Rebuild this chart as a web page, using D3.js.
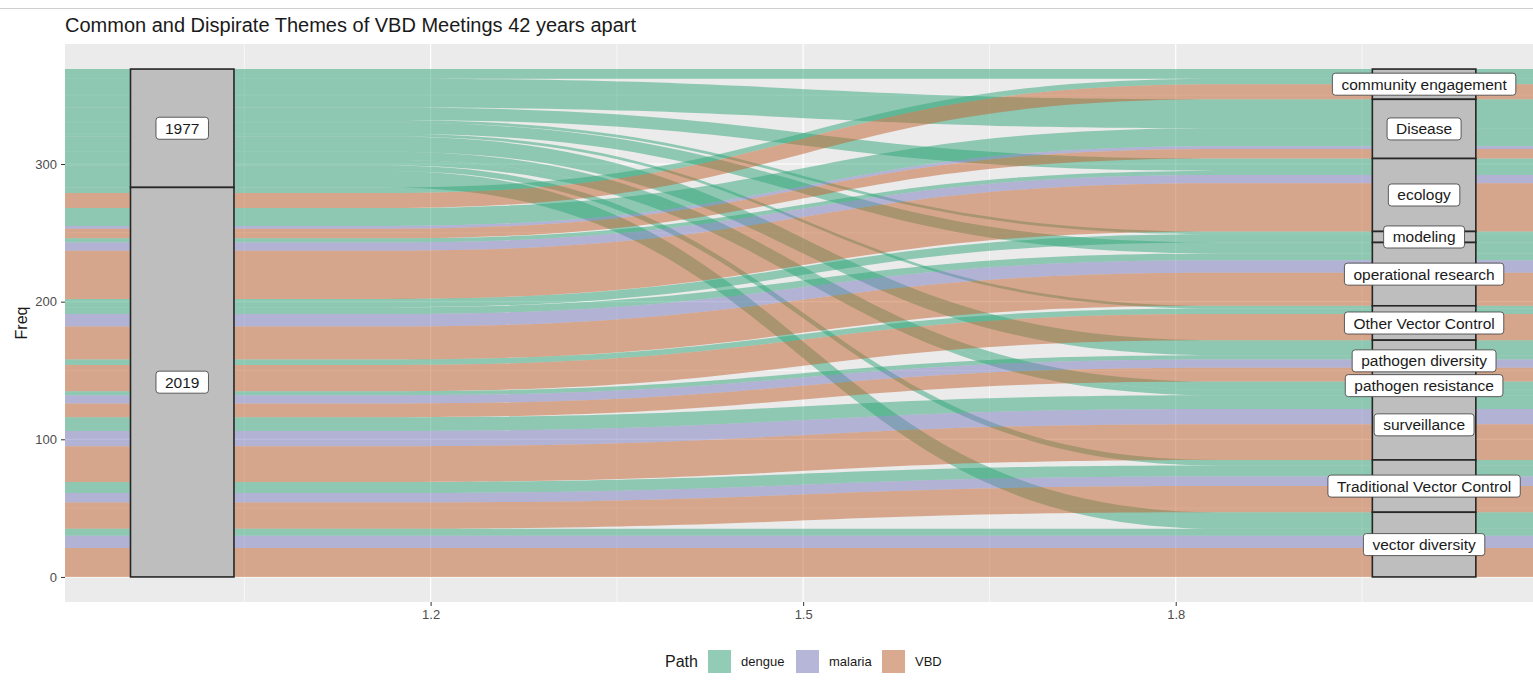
<!DOCTYPE html>
<html>
<head>
<meta charset="utf-8">
<script src="https://cdn.jsdelivr.net/npm/d3@7"></script>
<style>
  body { margin: 0; background: #ffffff; }
  svg { display: block; font-family: "Liberation Sans", Arial, Helvetica, sans-serif; }
</style>
</head>
<body>
<svg id="chart" width="1533" height="686"></svg>
<script>
// ---- data ----------------------------------------------------------------
const title = "Common and Dispirate Themes of VBD Meetings 42 years apart";
const years = ["1977", "2019"];
const themes = [
  "community engagement", "Disease", "ecology", "modeling",
  "operational research", "Other Vector Control", "pathogen diversity",
  "pathogen resistance", "surveillance", "Traditional Vector Control",
  "vector diversity"
];
const paths = ["dengue", "malaria", "VBD"];

// Freq per theme (same order as themes)
const freq1977Dengue  = [7, 21, 9, 2, 8, 2, 11, 6, 4, 4, 12];
const freq2019Dengue  = [4, 13, 3, 6, 5, 4, 3, 0, 10, 8, 5];
const freq2019Malaria = [0, 2, 6, 0, 9, 0, 6, 0, 11, 7, 9];
const freq2019VBD     = [11, 7, 35, 0, 24, 19, 10, 0, 26, 19, 21];

const xTicks = [1.2, 1.5, 1.8];
const xMinor = [1.05, 1.35, 1.65, 1.95];
const yTicks = [0, 100, 200, 300];
const yMinor = [50, 150, 250, 350];

const pathColors = ["#31A579", "#7979BD", "#C1612D"];

// ---- rows: one alluvium per (year, theme, path) ---------------------------
const rows = [];
themes.forEach((t, i) => {
  rows.push({ year: 0, theme: i, path: 0, freq: freq1977Dengue[i] });
  rows.push({ year: 1, theme: i, path: 0, freq: freq2019Dengue[i] });
  rows.push({ year: 1, theme: i, path: 1, freq: freq2019Malaria[i] });
  rows.push({ year: 1, theme: i, path: 2, freq: freq2019VBD[i] });
});
const alluvia = rows.filter(r => r.freq > 0);
const total = d3.sum(alluvia, d => d.freq);

// stack on axis 1 (year, then theme, then path), top down
let cum = 0;
alluvia.slice().sort((a, b) => a.year - b.year || a.theme - b.theme || a.path - b.path)
  .forEach(r => { r.l1 = total - cum; cum += r.freq; r.l0 = total - cum; });
// stack on axis 2 (theme, then year, then path), top down
cum = 0;
alluvia.slice().sort((a, b) => a.theme - b.theme || a.year - b.year || a.path - b.path)
  .forEach(r => { r.r1 = total - cum; cum += r.freq; r.r0 = total - cum; });

// strata
const leftStrata = [];
cum = 0;
years.forEach((yr, k) => {
  const v = d3.sum(alluvia.filter(r => r.year === k), r => r.freq);
  leftStrata.push({ label: yr, top: total - cum, bottom: total - cum - v });
  cum += v;
});
const rightStrata = [];
cum = 0;
themes.forEach((t, k) => {
  const v = d3.sum(alluvia.filter(r => r.theme === k), r => r.freq);
  rightStrata.push({ label: t, top: total - cum, bottom: total - cum - v });
  cum += v;
});

// ---- scales ----------------------------------------------------------------
const panel = { left: 65, right: 1533, top: 44, bottom: 602 };
const x = d3.scaleLinear().domain([0.9056, 2.0877]).range([panel.left, panel.right]);
const y = d3.scaleLinear().domain([-18.2, 387.2]).range([panel.bottom, panel.top]);
const color = d3.scaleOrdinal().domain(paths).range(pathColors);

const svg = d3.select("#chart");

// thin rule across the top
svg.append("line").attr("x1", 0).attr("x2", 1533).attr("y1", 8.5).attr("y2", 8.5)
  .attr("stroke", "#cfcfcf").attr("stroke-width", 1);

// title
svg.append("text").attr("x", 65).attr("y", 32).attr("font-size", 20)
  .attr("fill", "#1a1a1a").text(title);

// panel background + grid
svg.append("rect").attr("x", panel.left).attr("y", panel.top)
  .attr("width", panel.right - panel.left).attr("height", panel.bottom - panel.top)
  .attr("fill", "#EBEBEB");

svg.append("defs").append("clipPath").attr("id", "panelClip")
  .append("rect").attr("x", panel.left).attr("y", panel.top)
  .attr("width", panel.right - panel.left).attr("height", panel.bottom - panel.top);

const grid = svg.append("g").attr("clip-path", "url(#panelClip)");
yMinor.forEach(v => grid.append("line").attr("x1", panel.left).attr("x2", panel.right)
  .attr("y1", y(v)).attr("y2", y(v)).attr("stroke", "#fff").attr("stroke-width", 0.6));
xMinor.forEach(v => grid.append("line").attr("y1", panel.top).attr("y2", panel.bottom)
  .attr("x1", x(v)).attr("x2", x(v)).attr("stroke", "#fff").attr("stroke-width", 0.6));
yTicks.forEach(v => grid.append("line").attr("x1", panel.left).attr("x2", panel.right)
  .attr("y1", y(v)).attr("y2", y(v)).attr("stroke", "#fff").attr("stroke-width", 1.2));
xTicks.forEach(v => grid.append("line").attr("y1", panel.top).attr("y2", panel.bottom)
  .attr("x1", x(v)).attr("x2", x(v)).attr("stroke", "#fff").attr("stroke-width", 1.2));

// ---- alluvia ---------------------------------------------------------------
const halfFlow = 1 / 6;     // flow width around each axis
const halfStratum = 1 / 24; // stratum width 1/12
function flowPath(r) {
  const xa = x(1 - halfFlow), xb = x(1 + halfFlow);
  const xc = x(2 - halfFlow), xd = x(2 + halfFlow);
  const mid = (xc - xb) / 2;
  const p = d3.path();
  p.moveTo(xa, y(r.l1));
  p.lineTo(xb, y(r.l1));
  p.bezierCurveTo(xb + mid, y(r.l1), xc - mid, y(r.r1), xc, y(r.r1));
  p.lineTo(xd, y(r.r1));
  p.lineTo(xd, y(r.r0));
  p.lineTo(xc, y(r.r0));
  p.bezierCurveTo(xc - mid, y(r.r0), xb + mid, y(r.l0), xb, y(r.l0));
  p.lineTo(xa, y(r.l0));
  p.closePath();
  return p.toString();
}

const drawOrder = alluvia.slice().sort((a, b) => a.year - b.year || a.theme - b.theme || a.path - b.path);
svg.append("g").attr("clip-path", "url(#panelClip)")
  .selectAll("path").data(drawOrder).join("path")
  .attr("d", flowPath)
  .attr("fill", d => color(paths[d.path]))
  .attr("fill-opacity", 0.5);

// ---- strata ----------------------------------------------------------------
function drawStrata(list, cx) {
  const g = svg.append("g");
  g.selectAll("rect").data(list).join("rect")
    .attr("x", x(cx - halfStratum)).attr("width", x(cx + halfStratum) - x(cx - halfStratum))
    .attr("y", d => y(d.top)).attr("height", d => y(d.bottom) - y(d.top))
    .attr("fill", "#BEBEBE").attr("stroke", "#262626").attr("stroke-width", 1.6);
  return g;
}
drawStrata(leftStrata, 1);
drawStrata(rightStrata, 2);

function drawLabels(list, cx) {
  const g = svg.append("g");
  list.forEach(d => {
    const cy = y((d.top + d.bottom) / 2);
    const lg = g.append("g");
    const txt = lg.append("text").attr("x", x(cx)).attr("y", cy)
      .attr("text-anchor", "middle").attr("dominant-baseline", "central")
      .attr("font-size", 15.5).attr("fill", "#1a1a1a").text(d.label);
    const w = txt.node().getComputedTextLength() + 18;
    lg.insert("rect", "text").attr("x", x(cx) - w / 2).attr("y", cy - 11)
      .attr("width", w).attr("height", 22).attr("rx", 3).attr("ry", 3)
      .attr("fill", "#fff").attr("stroke", "#3a3a3a").attr("stroke-width", 0.8);
  });
}
drawLabels(leftStrata, 1);
drawLabels(rightStrata, 2);

// ---- axes ------------------------------------------------------------------
const yAxis = svg.append("g").attr("transform", `translate(${panel.left},0)`)
  .call(d3.axisLeft(y).tickValues(yTicks).tickSize(4).tickPadding(4).tickFormat(d3.format("d")));
const xAxis = svg.append("g").attr("transform", `translate(0,${panel.bottom})`)
  .call(d3.axisBottom(x).tickValues(xTicks).tickSize(4).tickPadding(4).tickFormat(d3.format(".1f")));
[yAxis, xAxis].forEach(a => {
  a.select(".domain").remove();
  a.selectAll(".tick line").attr("stroke", "#333").attr("stroke-width", 1);
  a.selectAll(".tick text").attr("fill", "#4D4D4D").attr("font-size", 13)
    .attr("font-family", "Liberation Sans, Arial, sans-serif");
});

svg.append("text").attr("transform", `translate(27,${(panel.top + panel.bottom) / 2}) rotate(-90)`)
  .attr("text-anchor", "middle").attr("font-size", 16).attr("fill", "#1a1a1a").text("Freq");

// ---- legend ----------------------------------------------------------------
const legend = svg.append("g");
legend.append("text").attr("x", 665).attr("y", 667).attr("font-size", 16)
  .attr("fill", "#1a1a1a").text("Path");
const keyX = [708, 796, 882];
paths.forEach((p, i) => {
  legend.append("rect").attr("x", keyX[i]).attr("y", 650).attr("width", 23).attr("height", 23)
    .attr("fill", "#F2F2F2");
  legend.append("rect").attr("x", keyX[i]).attr("y", 650).attr("width", 23).attr("height", 23)
    .attr("fill", color(p)).attr("fill-opacity", 0.5);
  legend.append("text").attr("x", keyX[i] + 33).attr("y", 666).attr("font-size", 13)
    .attr("fill", "#1a1a1a").text(p);
});
</script>
</body>
</html>
